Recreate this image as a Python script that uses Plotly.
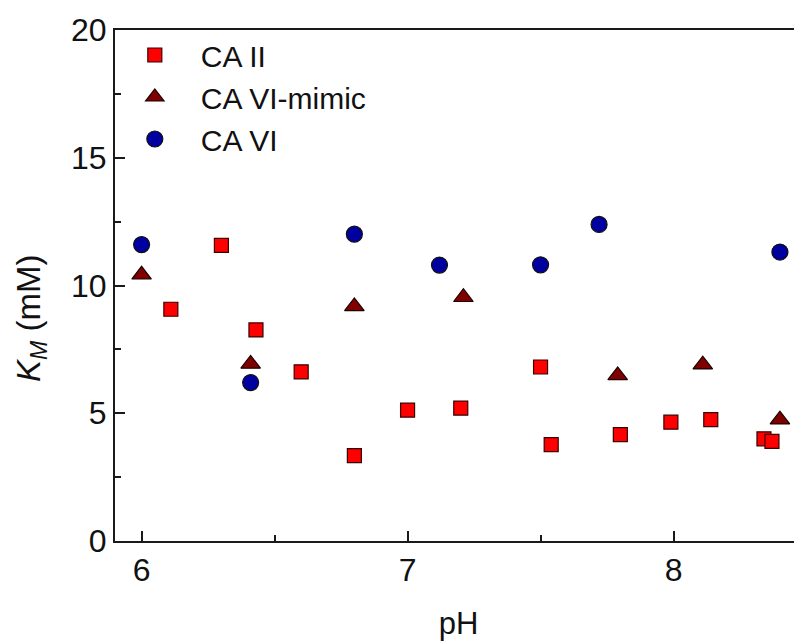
import plotly.graph_objects as go

# CA II (squares)
ca2_ph = [6.11, 6.30, 6.43, 6.60, 6.80, 7.00, 7.20, 7.50, 7.54, 7.80, 7.99, 8.14, 8.34, 8.37]
ca2_km = [9.07, 11.57, 8.26, 6.62, 3.34, 5.12, 5.20, 6.81, 3.77, 4.16, 4.65, 4.75, 4.00, 3.90]

# CA VI-mimic (triangles)
mimic_ph = [6.00, 6.41, 6.80, 7.21, 7.79, 8.11, 8.40]
mimic_km = [10.42, 6.93, 9.18, 9.54, 6.48, 6.90, 4.75]

# CA VI (circles)
ca6_ph = [6.00, 6.41, 6.80, 7.12, 7.50, 7.72, 8.40]
ca6_km = [11.60, 6.20, 12.01, 10.80, 10.81, 12.39, 11.31]

FONT = "Liberation Sans, Arial, sans-serif"
AX = "#1a1a1a"

fig = go.Figure()
fig.add_trace(go.Scatter(
    x=ca2_ph, y=ca2_km, mode="markers", name="CA II",
    marker=dict(symbol="square", size=14, color="#ff0000",
                line=dict(color="#3a0000", width=1.2))))
fig.add_trace(go.Scatter(
    x=mimic_ph, y=mimic_km, mode="markers", name="CA VI-mimic",
    marker=dict(symbol="triangle-up", size=17, color="#800000",
                line=dict(color="#1a0000", width=1.2))))
fig.add_trace(go.Scatter(
    x=ca6_ph, y=ca6_km, mode="markers", name="CA VI",
    marker=dict(symbol="circle", size=16, color="#0000a0",
                line=dict(color="#111111", width=1.2))))

fig.update_layout(
    width=802, height=643,
    margin=dict(l=107, r=8, t=22, b=110, autoexpand=False),
    plot_bgcolor="white", paper_bgcolor="white",
    font=dict(family=FONT, size=32, color="#111111"),
    showlegend=True,
    legend=dict(x=-0.009, y=1.002, xanchor="left", yanchor="top",
                bgcolor="rgba(0,0,0,0)", font=dict(size=30, family=FONT),
                itemwidth=82, tracegroupgap=0),
    xaxis=dict(
        range=[5.9, 8.483], showgrid=False, zeroline=False, automargin=False,
        showline=True, linecolor=AX, linewidth=2, mirror=True,
        ticks="inside", ticklen=10, tickwidth=2, tickcolor=AX,
        tickvals=[6, 7, 8], ticktext=["6", "7", "8"],
        tickfont=dict(size=32, family=FONT),
        minor=dict(tickvals=[6.5, 7.5], ticks="inside", ticklen=6,
                   tickwidth=2, tickcolor=AX),
        title=dict(text="pH", font=dict(size=31, family=FONT), standoff=25),
    ),
    yaxis=dict(
        range=[0, 20], showgrid=False, zeroline=False, automargin=False,
        showline=True, linecolor=AX, linewidth=2, mirror=False,
        ticks="inside", ticklen=10, tickwidth=2, tickcolor=AX,
        tickvals=[0, 5, 10, 15, 20], ticktext=["0", "5", "10", "15", "20"],
        tickfont=dict(size=32, family=FONT),
        minor=dict(tickvals=[2.5, 7.5, 12.5, 17.5], ticks="inside", ticklen=6,
                   tickwidth=2, tickcolor=AX),
    ),
    annotations=[dict(
        text="<i>K</i><sub><i>M</i></sub> (mM)", textangle=-90,
        xref="paper", yref="paper", x=-0.122, y=0.435,
        xanchor="center", yanchor="middle", showarrow=False,
        font=dict(size=33, family=FONT, color="#111111"),
    )],
)

fig.write_html("out.html")
